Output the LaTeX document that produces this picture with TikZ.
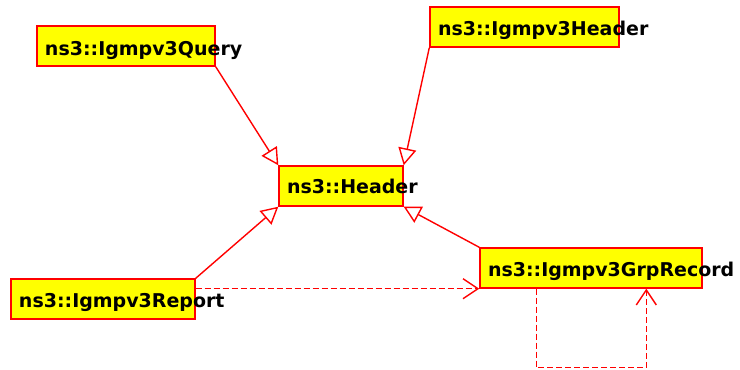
\documentclass[tikz,border=0pt]{standalone}
\usepackage{fontspec}
\setmainfont{DejaVu Sans}
\usetikzlibrary{arrows.meta}
\definecolor{umlred}{RGB}{255,0,0}
\definecolor{umlyellow}{RGB}{255,255,0}
\tikzset{
  classbox/.style={draw=umlred, fill=umlyellow, line width=1.4pt,
    rectangle, text height=28pt, text depth=12pt, inner xsep=8pt, inner ysep=0pt,
    font=\fontsize{19}{21}\selectfont\bfseries},
  inherit/.style={draw=umlred, line width=1.4pt,
    -{Triangle[open, length=17pt, width=18pt, fill=white]}},
  uses/.style={draw=umlred, line width=1.4pt, dash pattern=on 6pt off 3pt,
    -{Straight Barb[length=15pt, width=20pt]}},
}
% a box of fixed width whose label may run past its right edge
\newcommand{\classlabel}[2]{\makebox[\dimexpr#1pt-16pt\relax][l]{#2}}
\begin{document}
\begin{tikzpicture}[x=1pt, y=-1pt]
  \useasboundingbox (0,0) rectangle (740,370);

  \node[classbox, text height=29.5pt, text depth=10.5pt]
                  (query)  at (126,46)    {\classlabel{178}{ns3::Igmpv3Query}};
  \node[classbox] (igmph)  at (524.5,27)  {\classlabel{189}{ns3::Igmpv3Header}};
  \node[classbox, text height=27pt, text depth=13pt]
                  (header) at (341,186)   {\classlabel{124}{ns3::Header}};
  \node[classbox] (report) at (103,299)   {\classlabel{184}{ns3::Igmpv3Report}};
  \node[classbox] (grprec) at (591,268)   {\classlabel{222}{ns3::Igmpv3GrpRecord}};

  % generalisations towards ns3::Header
  \draw[inherit] (query.south east)  -- (header.north west);
  \draw[inherit] (igmph.south west)  -- (header.north east);
  \draw[inherit] (report.north east) -- (header.south west);
  \draw[inherit] (grprec.north west) -- (header.south east);

  % dependencies
  \draw[uses] (report.north east |- grprec.south west) -- (grprec.south west);
  \draw[uses] ([xshift=57pt]grprec.south west) -- ++(0,79)
              -| ([xshift=167pt]grprec.south west);
\end{tikzpicture}
\end{document}
